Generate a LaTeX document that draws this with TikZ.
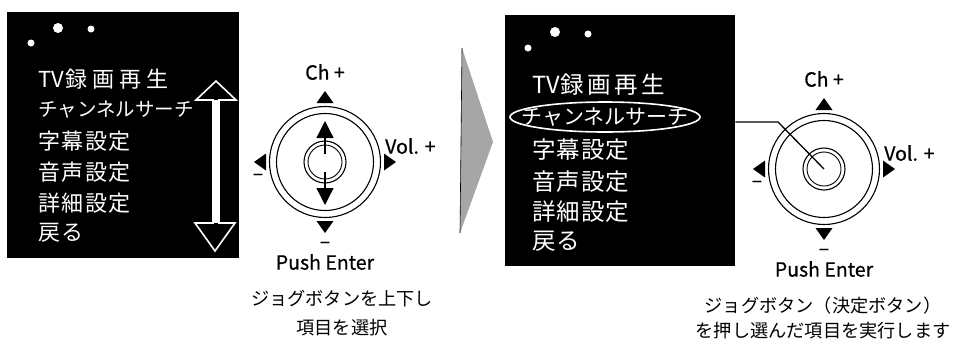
\documentclass[tikz,border=0pt]{standalone}
\usepackage{fontspec}
\setmainfont{Noto Sans CJK JP}
\newfontfamily\labelfont[FakeBold=0.7]{Noto Sans CJK JP}
\usetikzlibrary{shapes.geometric, arrows.meta, calc}
\newcommand\jsp[1][1.5pt]{\hspace{#1}}
\tikzset{
  screen/.style={fill=black, inner sep=0pt, anchor=north west},
  menu/.style={text=white, anchor=west, inner sep=0pt},
  led/.style={circle, fill=white, inner sep=0pt},
  ring/.style={circle, draw, line width=1.1pt, inner sep=0pt},
  lbl/.style={inner sep=0pt, font=\labelfont\fontsize{19.5}{19.5}\selectfont},
  note/.style={align=center, inner sep=0pt},
  link/.style={line width=1.3pt},
}

\begin{document}
\begin{tikzpicture}[x=1pt, y=-1pt]
    \useasboundingbox (0,0) rectangle (960,341);

    % Left screen: list scrolled with the jog button
    \node (scr1) [screen, minimum width=232pt, minimum height=246pt] at (7,12) {};
    \node (led1a) [led, minimum size=10pt] at ($(scr1.north west)+(51,16)$) {};
    \node (led1b) [led, minimum size=7pt] at ($(scr1.north west)+(84,17)$) {};
    \node (led1c) [led, minimum size=7pt] at ($(scr1.north west)+(24,31)$) {};
    \foreach \t/\s/\y [count=\i] in {{TV\jsp[1pt]録\jsp[5pt]画\jsp[5pt]再\jsp[5pt]生}/22/79,
                                     チャンネルサーチ/19.5/110, {字\jsp 幕\jsp 設\jsp 定}/22/141,
                                     {音\jsp 声\jsp 設\jsp 定}/22/172, {詳\jsp 細\jsp 設\jsp 定}/22/203,
                                     {戻\jsp る}/22/233}
        \node (m1-\i) [menu, font=\fontsize{\s}{\s}\selectfont] at (38,\y) {\t};
    % hollow double arrow
    \fill[white] (213,100) rectangle (219,223);
    \draw[white, line width=1.6pt] (216,81) -- (236,100) -- (219,100) -- (219,223)
        -- (235,223) -- (215,251) -- (195,223) -- (213,223) -- (213,100) -- (196,100) -- cycle;

    % Left jog button
    \node (jog1) [ring, minimum size=111pt] at (325,162) {};
    \node (jog1in) [ring, minimum size=97pt] at (jog1) {};
    \node (knob1) [ring, minimum size=42pt] at (jog1) {};
    \node (knob1in) [ring, minimum size=34pt, line width=0.9pt] at (jog1) {};
    \draw[link, -{Triangle[length=17pt, width=17pt]}] ($(jog1)+(0,-8)$) -- ($(jog1)+(0,-41)$);
    \draw[link, -{Triangle[length=17pt, width=17pt]}] ($(jog1)+(0,10)$) -- ($(jog1)+(0,43)$);

    % Chevron
    \fill[gray!70] (462,48) -- (493,142) -- (460,233) -- cycle;
    \draw[line width=0.6pt] (462,48) -- (460,233);

    % Right screen: selected item is run
    \node (scr2) [screen, minimum width=230pt, minimum height=251pt] at (505,15) {};
    \node (led2a) [led, minimum size=10pt] at ($(scr2.north west)+(50,17)$) {};
    \node (led2b) [led, minimum size=7pt] at ($(scr2.north west)+(83,19)$) {};
    \node (led2c) [led, minimum size=7pt] at ($(scr2.north west)+(23,33)$) {};
    \node (sel) [ellipse, draw=white, line width=1.6pt, minimum width=190pt,
        minimum height=30pt, inner sep=0pt] at (605,117) {};
    \foreach \t/\x/\s/\y [count=\i] in {{TV\jsp[1pt]録\jsp[3.5pt]画\jsp[3.5pt]再\jsp[3.5pt]生}/532/23.5/85,
                                        チャンネルサーチ/521/21/117, {字\jsp[1pt]幕\jsp[1pt]設\jsp[1pt]定}/532/23.5/150,
                                        {音\jsp[1pt]声\jsp[1pt]設\jsp[1pt]定}/532/23.5/182,
                                        {詳\jsp[1pt]細\jsp[1pt]設\jsp[1pt]定}/532/23.5/212,
                                        {戻\jsp[1pt]る}/532/23.5/241}
        \node (m2-\i) [menu, font=\fontsize{\s}{\s}\selectfont] at (\x,\y) {\t};

    % Right jog button
    \node (jog2) [ring, minimum size=111pt] at (824,169) {};
    \node (jog2in) [ring, minimum size=97pt] at (jog2) {};
    \node (knob2) [ring, minimum size=42pt] at (jog2) {};
    \node (knob2in) [ring, minimum size=34pt, line width=0.9pt] at (jog2) {};
    \coordinate (bend) at (778,122);
    \draw[link] (scr2.east |- bend) -- (bend) -- (knob2.center);

    % Direction keys and labels
    \foreach \j in {1,2} {
        \foreach \a in {0,90,180,270}
            \fill ($(jog\j)+(\a:59)+(\a+90:8.5)$) -- ($(jog\j)+(\a:71)$)
                -- ($(jog\j)+(\a:59)+(\a-90:8.5)$) -- cycle;
        \node (ch\j) [lbl] at ($(jog\j)+(0,-90)$) {Ch +};
        \node (vol\j) [lbl, anchor=west] at ($(jog\j)+(60,-16)$) {Vol. +};
        \node (dn\j) [lbl] at ($(jog\j)+(-67,15)$) {–};
        \node (dd\j) [lbl] at ($(jog\j)+(0,83)$) {–};
        \node (push\j) [lbl] at ($(jog\j)+(0,100)$) {Push Enter};
    }

    % Captions
    \node (cap1) [note, font=\fontsize{18.2}{29}\selectfont] at (342,313)
        {ジョグボタンを上下し\\項目を選択};
    \node (cap2) [note, font=\fontsize{18.2}{25}\selectfont] at (823,318)
        {ジョグボタン（決定ボタン）\\を押し選んだ項目を実行します};
\end{tikzpicture}
\end{document}
